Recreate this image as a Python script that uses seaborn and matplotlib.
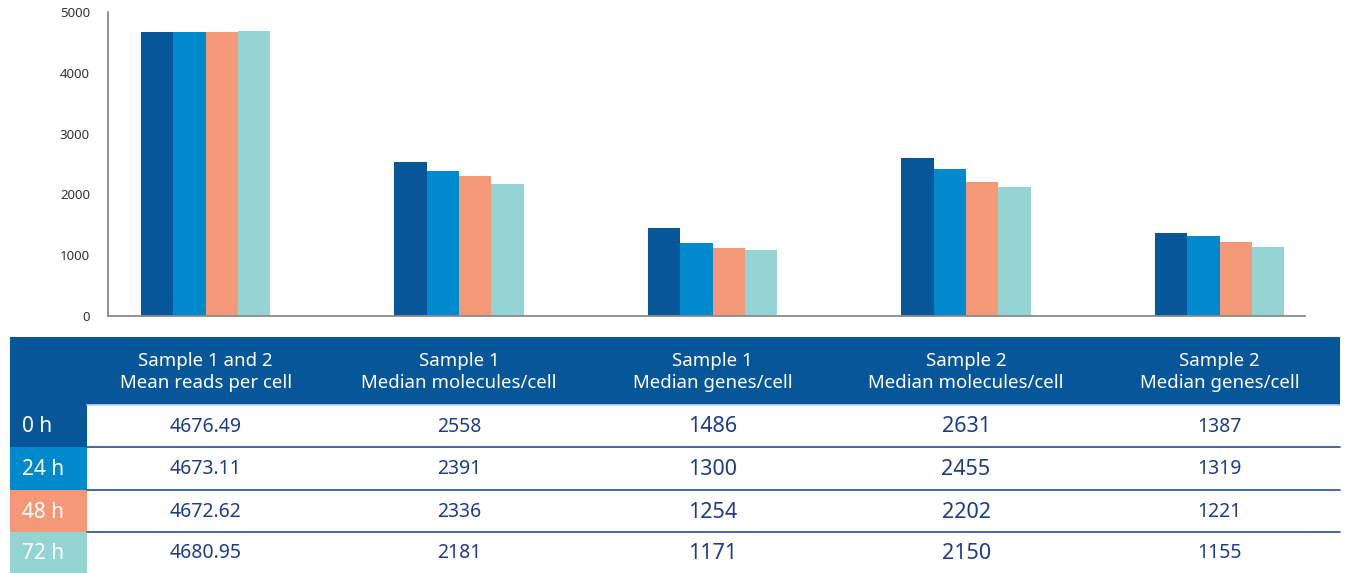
import pandas as pd
import matplotlib
matplotlib.use('Agg')
import matplotlib.pyplot as plt
from matplotlib.patches import Rectangle
import seaborn as sns

# Data
metrics = ['Sample 1 and 2\nMean reads per cell',
           'Sample 1\nMedian molecules/cell',
           'Sample 1\nMedian genes/cell',
           'Sample 2\nMedian molecules/cell',
           'Sample 2\nMedian genes/cell']
times = ['0 h', '24 h', '48 h', '72 h']

# bar heights as drawn in the chart
bars_0h = [4676, 2533, 1447, 2599, 1365]
bars_24h = [4673, 2385, 1201, 2418, 1316]
bars_48h = [4673, 2303, 1118, 2204, 1217]
bars_72h = [4681, 2171, 1086, 2122, 1135]

# values printed in the table
table_0h = ['4676.49', '2558', '1486', '2631', '1387']
table_24h = ['4673.11', '2391', '1300', '2455', '1319']
table_48h = ['4672.62', '2336', '1254', '2202', '1221']
table_72h = ['4680.95', '2181', '1171', '2150', '1155']

colors = ['#08569a', '#0089cd', '#f49878', '#94d4d2']
navy = '#1d3c87'

sns.set_style('white')
plt.rcParams['font.family'] = ['Noto Sans', 'DejaVu Sans']

rows = []
for t, vals in zip(times, [bars_0h, bars_24h, bars_48h, bars_72h]):
    for m, v in zip(metrics, vals):
        rows.append({'metric': m, 'time': t, 'value': v})
df = pd.DataFrame(rows)

W, H = 1347, 573
fig = plt.figure(figsize=(W / 100, H / 100), dpi=100)
ax = fig.add_axes([108 / W, 1 - 316 / H, (1305 - 108) / W, (316 - 12) / H])

sns.barplot(data=df, x='metric', y='value', hue='time', hue_order=times,
            palette=colors, width=0.51, saturation=1, errorbar=None,
            legend=False, linewidth=0, ax=ax)

ax.set_xlim(-0.385, 4.337)
ax.set_ylim(0, 5000)
ax.set_yticks(range(0, 5001, 1000))
ax.set_xticks([])
ax.set_xlabel('')
ax.set_ylabel('')
for s in ['top', 'right']:
    ax.spines[s].set_visible(False)
for s in ['left', 'bottom']:
    ax.spines[s].set_color('#8a8a8a')
    ax.spines[s].set_linewidth(1.3)
ax.tick_params(axis='y', direction='in', length=7, width=1.2, color='#555555',
               labelsize=9.5, labelcolor='#333333', pad=13)

# table below the chart (pixel coordinates)
tab = fig.add_axes([0, 0, 1, 1], zorder=-1)
tab.set_xlim(0, W)
tab.set_ylim(H, 0)
tab.axis('off')

col_x = [ax.transData.transform((i, 0))[0] for i in range(len(metrics))]
left, right, label_w = 10, 1340, 87
head_top, head_bot = 337, 405
row_edges = [405, 447, 490, 532, 573]

tab.add_patch(Rectangle((left, head_top), right - left, head_bot - head_top,
                        color=colors[0], lw=0))
tab.plot([label_w, right], [head_bot, head_bot], color='#c3d6ea', lw=1.2)
for x, m in zip(col_x, metrics):
    tab.text(x, (head_top + head_bot) / 2 + 1, m, color='white', fontsize=13.4,
             ha='center', va='center', linespacing=1.25)

table_rows = [table_0h, table_24h, table_48h, table_72h]
for i, (t, vals) in enumerate(zip(times, table_rows)):
    y0, y1 = row_edges[i], row_edges[i + 1]
    yc = (y0 + y1) / 2 + 1
    tab.add_patch(Rectangle((left, y0), label_w - left, y1 - y0,
                            color=colors[i], lw=0))
    tab.text(22, yc, t, color='white', fontsize=15, ha='left', va='center')
    for j, (x, v) in enumerate(zip(col_x, vals)):
        fs = 15.5 if j in (2, 3) else 14
        tab.text(x, yc, v, color=navy, fontsize=fs, ha='center', va='center')
    if i < 3:
        tab.plot([label_w, right], [y1, y1], color='#3c5a98', lw=1.3)

fig.savefig('out.png', dpi=100)
